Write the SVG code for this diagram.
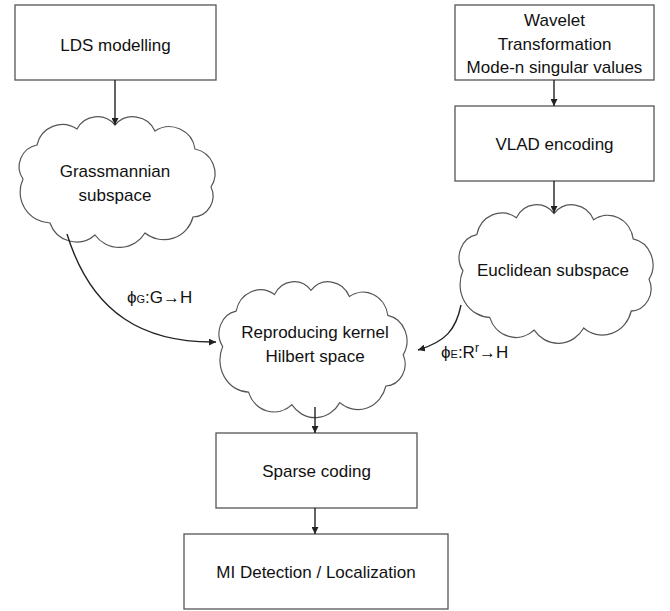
<svg xmlns="http://www.w3.org/2000/svg" width="670" height="611" viewBox="0 0 670 611">
<style>
.box{fill:#fff;stroke:#555;stroke-width:1.3}
.cloud{fill:#fff;stroke:#555;stroke-width:1.2}
.t{font-family:"Liberation Sans","Open Sans",sans-serif;font-size:17px;fill:#111;text-anchor:middle}
.lbl{font-family:"Liberation Sans","Open Sans",sans-serif;font-size:17px;fill:#111}
.c{fill:none;stroke:#222;stroke-width:1.4}
</style>
<defs>
<marker id="ah" viewBox="0 0 10 10" refX="10" refY="5" markerWidth="7" markerHeight="7" orient="auto" markerUnits="userSpaceOnUse">
<path d="M0,0 L10,5 L0,10 z" fill="#222"/>
</marker>
<path id="cloud" d="M8,62 A22,22 0 0 1 22,28 A26,26 0 0 1 62,12 A23,23 0 0 1 100,8 A24,24 0 0 1 140,14 A26,26 0 0 1 180,32 A25,25 0 0 1 196,70 A21,21 0 0 1 178,100 A30,30 0 0 1 130,116 A30,30 0 0 1 80,118 A28,28 0 0 1 35,106 A31,31 0 0 1 8,62 Z"/>
</defs>
<g id="lds">
<rect class="box" x="15" y="5" width="201" height="75"/>
<text class="t" x="115.5" y="51">LDS modelling</text>
</g>
<g id="wavelet">
<rect class="box" x="455" y="5" width="199" height="75"/>
<text class="t" x="554.5" y="26">Wavelet</text>
<text class="t" x="554.5" y="50">Transformation</text>
<text class="t" x="554.5" y="73">Mode-n singular values</text>
</g>
<g id="vlad">
<rect class="box" x="455" y="106" width="199" height="75"/>
<text class="t" x="554.5" y="150">VLAD encoding</text>
</g>
<g id="grassmannian">
<use href="#cloud" class="cloud" transform="translate(15,117)"/>
<text class="t" x="115" y="177">Grassmannian</text>
<text class="t" x="115" y="201">subspace</text>
</g>
<g id="euclidean">
<use href="#cloud" class="cloud" transform="translate(455,205) scale(0.99,1.06)"/>
<text class="t" x="553" y="276">Euclidean subspace</text>
</g>
<g id="rkhs">
<use href="#cloud" class="cloud" transform="translate(215,282) scale(0.96,1.04)"/>
<text class="t" x="315" y="338">Reproducing kernel</text>
<text class="t" x="315" y="362">Hilbert space</text>
</g>
<g id="sparse">
<rect class="box" x="216" y="433" width="201" height="75"/>
<text class="t" x="316.5" y="477">Sparse coding</text>
</g>
<g id="mi">
<rect class="box" x="184" y="534" width="264" height="75"/>
<text class="t" x="316" y="578">MI Detection / Localization</text>
</g>
<g id="connectors">
<line class="c" x1="115" y1="80" x2="115" y2="125" marker-end="url(#ah)"/>
<line class="c" x1="554" y1="80" x2="554" y2="106" marker-end="url(#ah)"/>
<line class="c" x1="554" y1="181" x2="554" y2="213" marker-end="url(#ah)"/>
<path class="c" d="M67,234 C92,315 145,343 216,342" marker-end="url(#ah)"/>
<path class="c" d="M461,305 C456,330 445,342 418,350" marker-end="url(#ah)"/>
<line class="c" x1="315" y1="407" x2="315" y2="433" marker-end="url(#ah)"/>
<line class="c" x1="315" y1="508" x2="315" y2="534" marker-end="url(#ah)"/>
</g>
<g id="labels">
<text class="lbl" x="127" y="303">ϕ<tspan font-size="11">G</tspan>:G→H</text>
<text class="lbl" x="441" y="358">ϕ<tspan font-size="11">E</tspan>:R<tspan font-size="12" dy="-6">r</tspan><tspan dy="6">→</tspan>H</text>
</g>
</svg>
